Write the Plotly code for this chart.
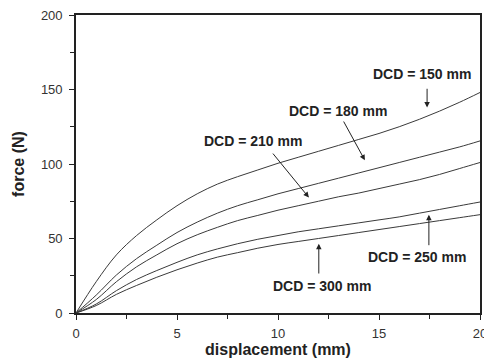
import plotly.graph_objects as go

displacement = [0, 1, 2, 3, 4, 5, 6, 7, 8, 9, 10, 11, 12, 13, 14, 15, 16, 17, 18, 19, 20]
force_150 = [0, 21, 39, 52, 62.5, 72, 80, 86.5, 91.5, 96, 100.5, 104.5, 108.5, 112.5, 116.5, 120.5, 125, 130, 135.5, 141.5, 148]
force_180 = [0, 12, 25.5, 36.5, 45.5, 54, 61, 67, 72, 76, 80, 83.5, 87, 90.5, 94, 97.5, 101, 104.5, 108, 111.5, 115.5]
force_210 = [0, 9, 21, 31, 39, 46.5, 52.5, 57.5, 62, 65.5, 69, 72, 75, 78, 80.5, 83.5, 86.5, 89.5, 93, 97, 101]
force_250 = [0, 6, 15, 22.5, 28.5, 34, 39, 43, 46.5, 49.5, 52, 54.5, 56.5, 58.5, 60.5, 62.5, 64.5, 67, 69.5, 72, 74.5]
force_300 = [0, 5, 12.5, 18.5, 24, 29, 33.5, 37.5, 40.5, 43.5, 46, 48, 50, 52, 54, 56, 58, 60, 62, 64, 66]

series = [force_150, force_180, force_210, force_250, force_300]
labels = ["DCD = 150 mm", "DCD = 180 mm", "DCD = 210 mm", "DCD = 250 mm", "DCD = 300 mm"]
# text centre, arrow tail, arrow tip (data coords)
text_pos = [(17.13, 160.7), (12.96, 135.8), (8.75, 115.6), (16.88, 37.6), (12.17, 18.2)]
arrow_tail = [(17.38, 151.5), (13.21, 129.5), (9.69, 108.0), (17.47, 44.5), (12.02, 25.5)]
arrow_tip = [(17.38, 138.0), (14.30, 102.5), (11.53, 77.5), (17.47, 66.0), (12.02, 46.5)]

fig = go.Figure()
for s, name in zip(series, labels):
    fig.add_trace(go.Scatter(x=displacement, y=s, mode="lines", name=name,
                             line=dict(color="#3a3a3a", width=1, shape="spline", smoothing=1.0),
                             showlegend=False))

annotations = []
for lab, tp, tail, tip in zip(labels, text_pos, arrow_tail, arrow_tip):
    annotations.append(dict(x=tp[0], y=tp[1], xref="x", yref="y", text="<b>" + lab + "</b>",
                            showarrow=False, font=dict(family="Liberation Sans", size=14, color="#222222")))
    annotations.append(dict(x=tip[0], y=tip[1], ax=tail[0], ay=tail[1], xref="x", yref="y",
                            axref="x", ayref="y", text="", showarrow=True, arrowhead=2,
                            arrowsize=1.1, arrowwidth=1, arrowcolor="#222222"))

axis_common = dict(showgrid=False, zeroline=False, showline=True, linecolor="#222222", linewidth=1.6,
                   mirror=True, ticks="outside", ticklen=5, tickwidth=1.3, tickcolor="#222222",
                   automargin=False, ticklabeloverflow="allow",
                   tickfont=dict(family="Liberation Sans", size=13, color="#333333"))

fig.update_layout(
    width=484, height=364,
    margin=dict(l=76, r=4, t=15, b=51),
    paper_bgcolor="white", plot_bgcolor="white",
    annotations=annotations,
    xaxis=dict(range=[0, 20], tickvals=[0, 5, 10, 15, 20], ticklabelstandoff=3,
               minor=dict(tickvals=[2.5, 7.5, 12.5, 17.5], ticks="outside", ticklen=4, tickwidth=1.2, tickcolor="#222222"),
               title=dict(text="<b>displacement (mm)</b>", standoff=0,
                          font=dict(family="Liberation Sans", size=16, color="#222222")),
               **axis_common),
    yaxis=dict(range=[0, 200], tickvals=[0, 50, 100, 150, 200], ticklabelstandoff=4,
               minor=dict(tickvals=[25, 75, 125, 175], ticks="outside", ticklen=4, tickwidth=1.2, tickcolor="#222222"),
               title=dict(text="<b>force (N)</b>", standoff=12,
                          font=dict(family="Liberation Sans", size=16, color="#222222")),
               **axis_common),
)

fig.write_html("out.html", config={"displayModeBar": False},
               post_script="document.body.style.margin='0px';document.body.style.overflow='hidden';")
